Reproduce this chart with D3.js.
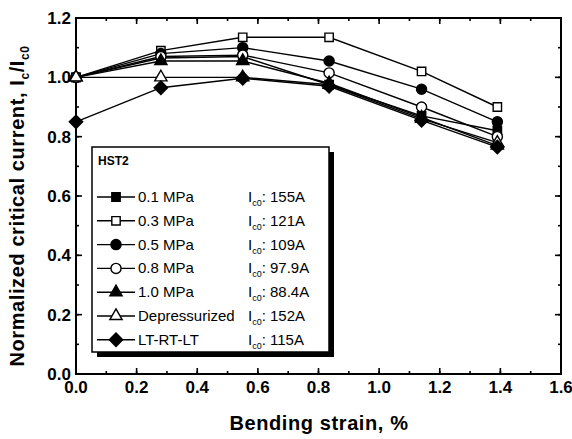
<!DOCTYPE html>
<html>
<head>
<meta charset="utf-8">
<script src="https://cdn.jsdelivr.net/npm/d3@7"></script>
<style>
  body { margin: 0; background: #fff; }
  svg { font-family: "Liberation Sans", Arial, sans-serif; }
</style>
</head>
<body>
<div id="chart"></div>
<script>
// bending strain (%) where each Ic was measured
var strain = [0, 0.28, 0.55, 0.835, 1.14, 1.39];

var p01 = [1.0, 1.065, 1.07, 0.975, 0.87, 0.82];
var p03 = [1.0, 1.09, 1.135, 1.135, 1.02, 0.90];
var p05 = [1.0, 1.08, 1.10, 1.055, 0.96, 0.85];
var p08 = [1.0, 1.07, 1.075, 1.015, 0.90, 0.80];
var p10 = [1.0, 1.055, 1.055, 0.98, 0.865, 0.77];
var depress = [1.0, 1.0, 1.0, 0.975, 0.86, 0.78];
var ltrtlt = [0.85, 0.965, 0.997, 0.97, 0.855, 0.765];

var names = ["0.1 MPa", "0.3 MPa", "0.5 MPa", "0.8 MPa", "1.0 MPa", "Depressurized", "LT-RT-LT"];
var ic0 = ["155A", "121A", "109A", "97.9A", "88.4A", "152A", "115A"];
var xTicks = [0, 0.2, 0.4, 0.6, 0.8, 1.0, 1.2, 1.4, 1.6];
var yTicks = [0, 0.2, 0.4, 0.6, 0.8, 1.0, 1.2];

var series = [
  {name: names[0], vals: p01, shape: "square", fill: true},
  {name: names[1], vals: p03, shape: "square", fill: false},
  {name: names[2], vals: p05, shape: "circle", fill: true},
  {name: names[3], vals: p08, shape: "circle", fill: false},
  {name: names[4], vals: p10, shape: "triangle", fill: true},
  {name: names[5], vals: depress, shape: "triangle", fill: false},
  {name: names[6], vals: ltrtlt, shape: "diamond", fill: true}
];

var width = 572, height = 439;
var pL = 76, pR = 561, pT = 18, pB = 374;

var svg = d3.select("#chart").append("svg")
  .attr("width", width)
  .attr("height", height);

var x = d3.scaleLinear().domain([0, 1.6]).range([pL, pR]);
var y = d3.scaleLinear().domain([0, 1.2]).range([pB, pT]);

// square diamond, not the tall d3 one
var diamond = {
  draw: function(ctx, size) {
    var r = Math.sqrt(size / 2);
    ctx.moveTo(0, -r); ctx.lineTo(r, 0); ctx.lineTo(0, r); ctx.lineTo(-r, 0); ctx.closePath();
  }
};

var symbols = {
  square: d3.symbol().type(d3.symbolSquare).size(70),
  circle: d3.symbol().type(d3.symbolCircle).size(80),
  triangle: d3.symbol().type(d3.symbolTriangle).size(65),
  diamond: d3.symbol().type(diamond).size(90)
};

// frame
svg.append("rect")
  .attr("x", pL).attr("y", pT)
  .attr("width", pR - pL).attr("height", pB - pT)
  .attr("fill", "none").attr("stroke", "#000").attr("stroke-width", 2);

// ticks (inward) on all four sides
var minorX = d3.range(0, 1.61, 0.1);
var minorY = d3.range(0, 1.21, 0.1);

function tickLines(vals, len) {
  vals.forEach(function(v) {
    svg.append("line").attr("x1", x(v)).attr("x2", x(v))
      .attr("y1", pB).attr("y2", pB - len).attr("stroke", "#000").attr("stroke-width", 1.6);
    svg.append("line").attr("x1", x(v)).attr("x2", x(v))
      .attr("y1", pT).attr("y2", pT + len).attr("stroke", "#000").attr("stroke-width", 1.6);
  });
}
function tickLinesY(vals, len) {
  vals.forEach(function(v) {
    svg.append("line").attr("y1", y(v)).attr("y2", y(v))
      .attr("x1", pL).attr("x2", pL + len).attr("stroke", "#000").attr("stroke-width", 1.6);
    svg.append("line").attr("y1", y(v)).attr("y2", y(v))
      .attr("x1", pR).attr("x2", pR - len).attr("stroke", "#000").attr("stroke-width", 1.6);
  });
}
tickLines(minorX, 3);
tickLines(xTicks, 6);
tickLinesY(minorY, 3);
tickLinesY(yTicks, 6);

// tick labels
svg.selectAll(".xl").data(xTicks).enter().append("text")
  .attr("x", function(d) { return x(d); })
  .attr("y", pB + 19)
  .attr("text-anchor", "middle")
  .attr("font-size", 17).attr("font-weight", "bold")
  .text(function(d) { return d.toFixed(1); });

svg.selectAll(".yl").data(yTicks).enter().append("text")
  .attr("x", pL - 5)
  .attr("y", function(d) { return y(d) + 6; })
  .attr("text-anchor", "end")
  .attr("font-size", 17).attr("font-weight", "bold")
  .text(function(d) { return d.toFixed(1); });

// axis titles
svg.append("text")
  .attr("x", 319).attr("y", 430)
  .attr("text-anchor", "middle")
  .attr("font-size", 20).attr("font-weight", "bold")
  .attr("letter-spacing", 0.6)
  .text("Bending strain, %");

var yt = svg.append("text")
  .attr("transform", "translate(24,206) rotate(-90)")
  .attr("text-anchor", "middle")
  .attr("font-size", 20).attr("font-weight", "bold")
  .attr("letter-spacing", 0.6);
yt.append("tspan").text("Normalized critical current, I");
yt.append("tspan").attr("font-size", 12).attr("dy", 5).text("c");
yt.append("tspan").attr("dy", -5).text("/I");
yt.append("tspan").attr("font-size", 12).attr("dy", 5).text("c0");

// series
var line = d3.line()
  .x(function(d, i) { return x(strain[i]); })
  .y(function(d) { return y(d); });

series.forEach(function(s) {
  svg.append("path")
    .attr("d", line(s.vals))
    .attr("fill", "none").attr("stroke", "#000").attr("stroke-width", 1.4);
});
series.forEach(function(s) {
  svg.selectAll(null).data(s.vals).enter().append("path")
    .attr("d", symbols[s.shape])
    .attr("transform", function(d, i) { return "translate(" + x(strain[i]) + "," + y(d) + ")"; })
    .attr("fill", s.fill ? "#000" : "#fff")
    .attr("stroke", "#000").attr("stroke-width", 1.4);
});

// legend box with shadow
var lx = 92, ly = 147, lw = 237, lh = 205;
svg.append("rect").attr("x", lx + 5).attr("y", ly + 5).attr("width", lw).attr("height", lh).attr("fill", "#000");
svg.append("rect").attr("x", lx).attr("y", ly).attr("width", lw).attr("height", lh)
  .attr("fill", "#fff").attr("stroke", "#000").attr("stroke-width", 1.5);

svg.append("text").attr("x", lx + 6).attr("y", ly + 18)
  .attr("font-size", 12).attr("font-weight", "bold").text("HST2");

series.forEach(function(s, i) {
  var yy = 197 + i * 23.8;
  svg.append("line").attr("x1", lx + 5).attr("x2", lx + 43)
    .attr("y1", yy).attr("y2", yy).attr("stroke", "#000").attr("stroke-width", 1.4);
  svg.append("path").attr("d", symbols[s.shape])
    .attr("transform", "translate(" + (lx + 24) + "," + yy + ")")
    .attr("fill", s.fill ? "#000" : "#fff")
    .attr("stroke", "#000").attr("stroke-width", 1.4);
  svg.append("text").attr("x", lx + 46).attr("y", yy + 5)
    .attr("font-size", 15).text(s.name);
  var t = svg.append("text").attr("x", lx + 156).attr("y", yy + 5).attr("font-size", 15);
  t.append("tspan").text("I");
  t.append("tspan").attr("font-size", 9).attr("dy", 4).text("c0");
  t.append("tspan").attr("dy", -4).text(": " + ic0[i]);
});
</script>
</body>
</html>
